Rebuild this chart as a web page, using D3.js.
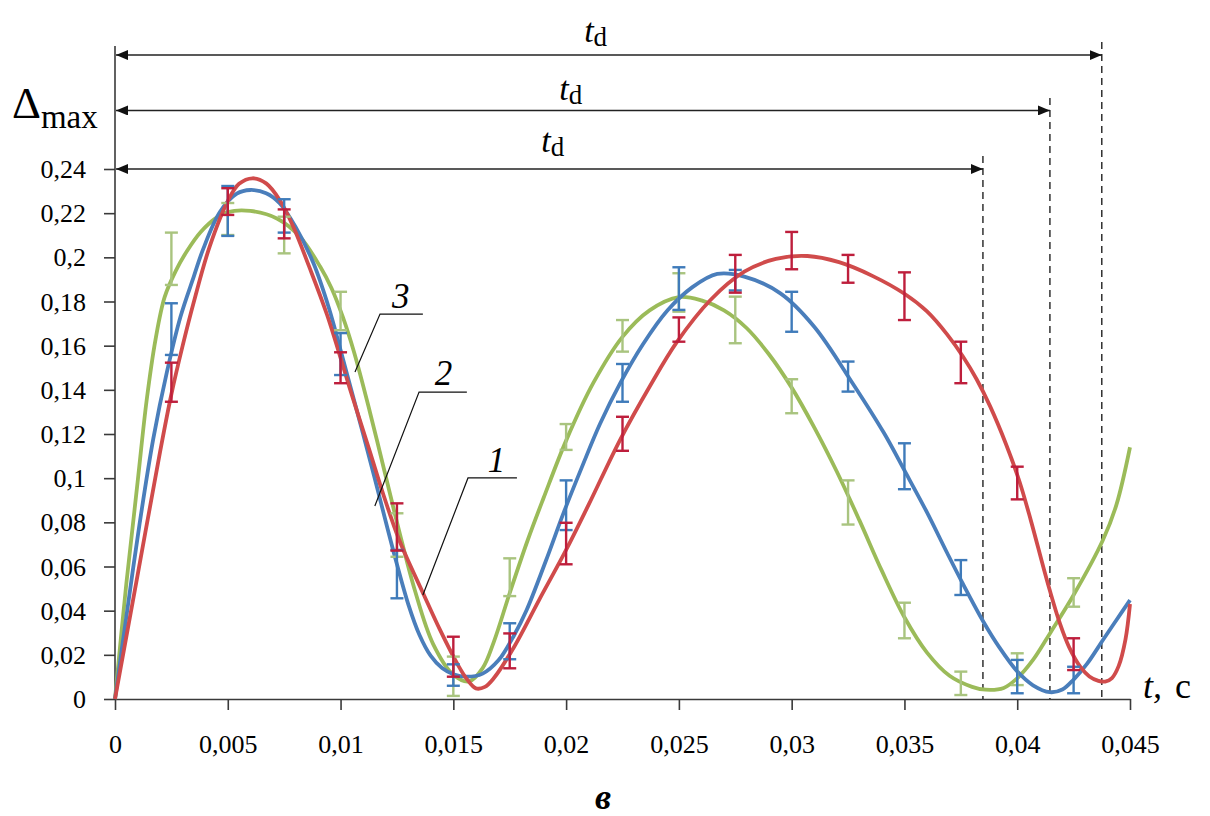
<!DOCTYPE html>
<html><head><meta charset="utf-8">
<script src="https://cdn.jsdelivr.net/npm/d3@7"></script>
<style>
body{margin:0;background:#fff}
svg{display:block}
text{font-family:"Liberation Serif","Times New Roman",serif;fill:#000}
</style>
</head><body>
<svg id="chart" width="1210" height="816"></svg>
<script>
// ---------- data ----------
const xTicks = [0,0.005,0.01,0.015,0.02,0.025,0.03,0.035,0.04,0.045];
const xTickLabels = ["0","0,005","0,01","0,015","0,02","0,025","0,03","0,035","0,04","0,045"];
const yTicks = [0,0.02,0.04,0.06,0.08,0.1,0.12,0.14,0.16,0.18,0.2,0.22,0.24];
const yTickLabels = ["0","0,02","0,04","0,06","0,08","0,1","0,12","0,14","0,16","0,18","0,2","0,22","0,24"];

const errT = [0.0025,0.005,0.0075,0.01,0.0125,0.015,0.0175,0.02,0.0225,0.025,0.0275,0.03,0.0325,0.035,0.0375,0.04,0.0425];
const s1Lo = [0.1346,0.2192,0.2086,0.143,0.0672,0.0101,0.0139,0.061,0.1124,0.1618,0.184,0.1946,0.1885,0.1716,0.143,0.0904,0.0131];
const s1Hi = [0.1523,0.2313,0.2217,0.157,0.0886,0.0282,0.0297,0.0798,0.1278,0.1728,0.2011,0.2115,0.2011,0.1932,0.1618,0.1052,0.0275];
const s2Lo = [0.1558,0.2097,0.2112,0.1467,0.0456,0.006,0.018,0.0765,0.1346,0.1762,0.185,0.1663,0.1392,0.095,0.0471,0.0026,0.0026];
const s2Hi = [0.1792,0.2323,0.2263,0.1657,0.0675,0.0157,0.0343,0.099,0.1517,0.1955,0.1943,0.1844,0.1528,0.1158,0.0629,0.0177,0.0146];
const s3Lo = [0.1875,0.2101,0.2018,0.167,0.0644,0.0014,0.0466,0.1128,0.1573,0.1754,0.1611,0.1294,0.079,0.0275,0.0018,0.0063,0.0418];
const s3Hi = [0.2112,0.2246,0.2184,0.1844,0.0841,0.0192,0.0637,0.1245,0.1716,0.1928,0.1822,0.1448,0.099,0.0436,0.0124,0.0207,0.0547];

// smoothed curves [t, Δmax]
const curve1 = [[0,0],[0.001,0.056],[0.002,0.112],[0.0025,0.138],[0.003,0.16],[0.0035,0.18],[0.0042,0.205],[0.005,0.2255],[0.0055,0.2333],[0.0061,0.2358],[0.0067,0.2335],[0.0073,0.226],[0.0079,0.214],[0.0086,0.196],[0.0094,0.174],[0.0104,0.141],[0.0113,0.112],[0.0119,0.0925],[0.0126,0.072],[0.0137,0.047],[0.0144,0.0315],[0.0152,0.0155],[0.0156,0.009],[0.016,0.0048],[0.0164,0.0055],[0.0168,0.0095],[0.0177,0.0237],[0.0188,0.0448],[0.02,0.0675],[0.021,0.088],[0.0224,0.1175],[0.0237,0.1414],[0.0249,0.1615],[0.0264,0.1807],[0.0279,0.1935],[0.0293,0.1993],[0.0307,0.2006],[0.0321,0.1978],[0.0336,0.1915],[0.035,0.1835],[0.036,0.1755],[0.0369,0.165],[0.0376,0.155],[0.0382,0.1448],[0.0388,0.1325],[0.0395,0.1155],[0.0401,0.0985],[0.0406,0.081],[0.04115,0.06],[0.04145,0.049],[0.0419,0.034],[0.0423,0.0235],[0.0428,0.0145],[0.0432,0.0102],[0.0436,0.0082],[0.0439,0.0079],[0.0442,0.0095],[0.0445,0.015],[0.0448,0.027],[0.045,0.043]];
const curve2 = [[0,0],[0.0005,0.037],[0.0011,0.08],[0.0017,0.118],[0.0023,0.148],[0.0029,0.173],[0.0035,0.1915],[0.0039,0.2035],[0.00465,0.2205],[0.0054,0.2288],[0.006,0.2305],[0.0067,0.229],[0.0073,0.2245],[0.008,0.2139],[0.0088,0.1973],[0.0095,0.1765],[0.01,0.158],[0.0105,0.139],[0.011,0.12],[0.0115,0.1005],[0.012,0.0805],[0.0125,0.061],[0.013,0.043],[0.0135,0.029],[0.014,0.0195],[0.0145,0.014],[0.015,0.0112],[0.0156,0.0101],[0.0163,0.0115],[0.017,0.0175],[0.0177,0.029],[0.01825,0.0403],[0.0191,0.0625],[0.0199,0.0846],[0.0207,0.105],[0.0215,0.1245],[0.0224,0.143],[0.0234,0.1605],[0.0245,0.176],[0.0256,0.1865],[0.0267,0.1925],[0.0279,0.1913],[0.0295,0.1837],[0.031,0.1686],[0.0327,0.143],[0.0341,0.1203],[0.035,0.1035],[0.036,0.0845],[0.0369,0.066],[0.0376,0.052],[0.0385,0.035],[0.0392,0.0235],[0.04,0.0125],[0.0407,0.0062],[0.04145,0.0031],[0.042,0.0043],[0.0425,0.0088],[0.0431,0.016],[0.0438,0.0267],[0.0444,0.0358],[0.045,0.0448]];
const curve3 = [[0,0],[0.0005,0.052],[0.001,0.098],[0.0014,0.135],[0.0018,0.163],[0.0022,0.182],[0.0027,0.194],[0.0032,0.203],[0.0038,0.2115],[0.0045,0.218],[0.005,0.2205],[0.006,0.221],[0.0072,0.2175],[0.0082,0.2093],[0.0091,0.1957],[0.0096,0.186],[0.0101,0.173],[0.0106,0.157],[0.0113,0.13],[0.012,0.101],[0.0126,0.076],[0.0133,0.049],[0.0141,0.025],[0.015,0.011],[0.0157,0.008],[0.0163,0.014],[0.0168,0.026],[0.0175,0.048],[0.0183,0.072],[0.019,0.091],[0.02,0.117],[0.0212,0.143],[0.0225,0.164],[0.0237,0.176],[0.025,0.182],[0.026,0.1805],[0.027,0.176],[0.028,0.168],[0.029,0.156],[0.03,0.141],[0.031,0.123],[0.032,0.103],[0.033,0.081],[0.034,0.058],[0.035,0.037],[0.036,0.021],[0.037,0.0105],[0.038,0.0055],[0.0386,0.0042],[0.0394,0.005],[0.04,0.0094],[0.0407,0.0177],[0.04145,0.0297],[0.0425,0.0471],[0.0438,0.072],[0.0444,0.088],[0.045,0.114]];

// t_d annotations (top → bottom)
const tdValues = [0.04375, 0.04145, 0.03848];
const tdArrowLevel = [0.2916, 0.2665, 0.24];
const tdDashTop = [0.2975, 0.2722, 0.2459];
const tdLabelT = [0.0208, 0.0197, 0.0189];
const tdLabelLevel = [0.2974, 0.2713, 0.2479];

// curve number labels: label anchor, leader knee, leader end (t, Δ)
const curveLabels = ["3","2","1"];
const labelT = [0.01228, 0.01418, 0.01653];
const labelV = [0.1771, 0.1422, 0.1028];
const leaderKneeT = [0.01175, 0.01348, 0.01565];
const leaderRightT = [0.01365, 0.0156, 0.01782];
const leaderLevel = [0.1743, 0.139, 0.1001];
const leaderEndT = [0.01064, 0.01152, 0.01365];
const leaderEndV = [0.1481, 0.0874, 0.0471];

// ---------- drawing ----------
const svg = d3.select("#chart");
const x = d3.scaleLinear().domain([0, 0.045]).range([115, 1130]);
const y = d3.scaleLinear().domain([0, 0.24]).range([699, 169]);
const axisColor = "#3a3a3a";

// axes
const xAxis = svg.append("g").attr("transform", `translate(0,${y(0)})`)
  .call(d3.axisBottom(x).tickValues(xTicks).tickFormat((d,i)=>xTickLabels[i]).tickSize(11).tickSizeOuter(0));
xAxis.select(".domain").attr("stroke", axisColor).attr("stroke-width", 1.6);
xAxis.selectAll(".tick line").attr("stroke", axisColor).attr("stroke-width", 1.6);
xAxis.selectAll(".tick text").attr("y", 54).attr("dy", 0).attr("font-size", 26)
  .attr("font-family", '"Liberation Serif",serif').attr("fill", "#000");

const yAxis = svg.append("g").attr("transform", `translate(${x(0)},0)`)
  .call(d3.axisLeft(y).tickValues(yTicks).tickFormat((d,i)=>yTickLabels[i]).tickSize(11).tickSizeOuter(0));
yAxis.select(".domain").remove();
yAxis.selectAll(".tick line").attr("stroke", axisColor).attr("stroke-width", 1.6);
yAxis.selectAll(".tick text").attr("x", -29).attr("dy", "0.33em").attr("font-size", 26)
  .attr("font-family", '"Liberation Serif",serif').attr("fill", "#000");
svg.append("line").attr("x1", x(0)).attr("x2", x(0)).attr("y1", y(0)).attr("y2", y(0.2957))
  .attr("stroke", axisColor).attr("stroke-width", 1.6);

// arrow markers
const defs = svg.append("defs");
defs.append("marker").attr("id","arrEnd").attr("viewBox","0 0 12 10").attr("refX",12).attr("refY",5)
  .attr("markerWidth",12).attr("markerHeight",10).attr("markerUnits","userSpaceOnUse").attr("orient","auto")
  .append("path").attr("d","M0,0 L12,5 L0,10 Z").attr("fill","#111");
defs.append("marker").attr("id","arrStart").attr("viewBox","0 0 12 10").attr("refX",0).attr("refY",5)
  .attr("markerWidth",12).attr("markerHeight",10).attr("markerUnits","userSpaceOnUse").attr("orient","auto")
  .append("path").attr("d","M12,0 L0,5 L12,10 Z").attr("fill","#111");

// dashed verticals
svg.append("g").selectAll("line").data(tdValues).join("line")
  .attr("x1", d=>x(d)).attr("x2", d=>x(d))
  .attr("y1", (d,i)=>y(tdDashTop[i])).attr("y2", y(0))
  .attr("stroke", "#111").attr("stroke-width", 1.3).attr("stroke-dasharray", "7,5");

// curves
const line = d3.line().x(d=>x(d[0])).y(d=>y(d[1])).curve(d3.curveCatmullRom.alpha(0.5));
const series = [
  {c: curve3, lo: s3Lo, hi: s3Hi, line: "#9BBB59", bar: "#A9C47F"},
  {c: curve2, lo: s2Lo, hi: s2Hi, line: "#4A7EBB", bar: "#3F7BBA"},
  {c: curve1, lo: s1Lo, hi: s1Hi, line: "#D04B4B", bar: "#BE1E3C"}
];
series.forEach(s => {
  svg.append("path").datum(s.c).attr("d", line).attr("fill","none")
    .attr("stroke", s.line).attr("stroke-width", 3.8).attr("stroke-linejoin","round");
});
series.forEach(s => {
  const g = svg.append("g").attr("stroke", s.bar).attr("stroke-width", 2.4);
  errT.forEach((t,i) => {
    g.append("line").attr("x1", x(t)).attr("x2", x(t)).attr("y1", y(s.lo[i])).attr("y2", y(s.hi[i]));
    g.append("line").attr("x1", x(t)-6.5).attr("x2", x(t)+6.5).attr("y1", y(s.lo[i])).attr("y2", y(s.lo[i]));
    g.append("line").attr("x1", x(t)-6.5).attr("x2", x(t)+6.5).attr("y1", y(s.hi[i])).attr("y2", y(s.hi[i]));
  });
});

// t_d arrows
svg.append("g").selectAll("line").data(tdValues).join("line")
  .attr("x1", x(0)+1).attr("x2", d=>x(d))
  .attr("y1", (d,i)=>y(tdArrowLevel[i])).attr("y2", (d,i)=>y(tdArrowLevel[i]))
  .attr("stroke", "#222").attr("stroke-width", 1.5)
  .attr("marker-start","url(#arrStart)").attr("marker-end","url(#arrEnd)");

tdValues.forEach((d,i) => {
  const t = svg.append("text").attr("x", x(tdLabelT[i])).attr("y", y(tdLabelLevel[i])).attr("font-size", 34);
  t.append("tspan").attr("font-style","italic").text("t");
  t.append("tspan").attr("font-size", 27).attr("dy", 4).text("d");
});

// curve number labels with leaders
curveLabels.forEach((lab,i) => {
  svg.append("path")
    .attr("d", `M${x(leaderRightT[i])},${y(leaderLevel[i])} H${x(leaderKneeT[i])} L${x(leaderEndT[i])},${y(leaderEndV[i])}`)
    .attr("fill","none").attr("stroke","#111").attr("stroke-width",1.2);
  svg.append("text").attr("x", x(labelT[i])).attr("y", y(labelV[i]))
    .attr("font-size", 35).attr("font-style","italic").text(lab);
});

// axis titles
const yt = svg.append("text").attr("x", 12).attr("y", 118).attr("font-size", 45);
yt.append("tspan").text("Δ");
yt.append("tspan").attr("font-size", 33).attr("dy", 10).text("max");

const xt = svg.append("text").attr("x", 1143).attr("y", 698).attr("font-size", 36);
xt.append("tspan").attr("font-style","italic").text("t,");
xt.append("tspan").attr("dx", 13).text("c");

svg.append("text").attr("x", 603).attr("y", 809).attr("text-anchor","middle")
  .attr("font-size", 36).attr("font-weight","bold").attr("font-style","italic").text("в");
</script>
</body></html>
